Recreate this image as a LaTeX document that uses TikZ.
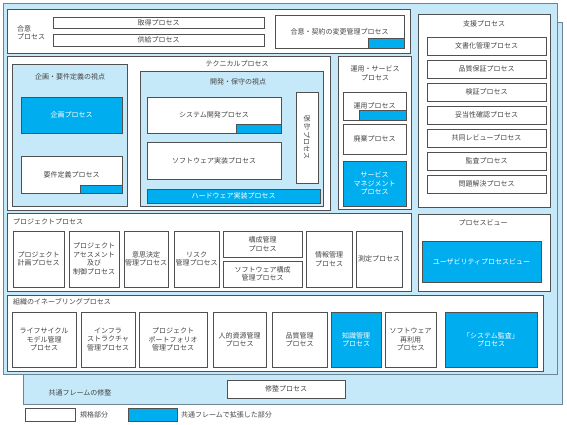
\documentclass[tikz,border=0pt]{standalone}
\usepackage{fontspec}
\setmainfont{Noto Sans CJK JP}
\usetikzlibrary{positioning}
\definecolor{panelblue}{HTML}{C6E9F9}
\definecolor{panelgray}{HTML}{6E8494}
\definecolor{extblue}{HTML}{00AEEF}
\definecolor{linegray}{HTML}{505050}
\definecolor{textgray}{HTML}{444444}
\tikzset{
  jpfont/.style={font=\fontsize{7}{8.5}\selectfont},
  base/.style={draw=linegray, line width=0.7pt, inner sep=0pt, outer sep=0pt, align=center, jpfont, text=textgray},
  std/.style={base, fill=white},
  ext/.style={base, fill=extblue, text=white},
  grp/.style={draw=linegray, line width=0.7pt, fill=white},
  panel/.style={draw=panelgray, line width=0.9pt, fill=panelblue},
  lbl/.style={inner sep=0pt, align=center, jpfont, text=textgray},
}
\begin{document}
\begin{tikzpicture}[x=1pt, y=-1pt]
  \useasboundingbox (0,0) rectangle (567,425);
  % back and front frames
  \draw[panel] (23,22) rectangle (562,404);
  \draw[panel] (3,3) rectangle (557,374);
  % process groups
  \foreach \a/\b/\c/\d in {7/9/410/53, 7/56/330/210, 338/56/411/209, 418/14/550/207, 7/213/411/291, 418/214/550/291, 7/295/543/371}
    \draw[grp] (\a,\b) rectangle (\c,\d);
  \draw[panel, draw=linegray] (12,64) rectangle (127,206);
  \draw[panel, draw=linegray] (140,71) rectangle (323,206);
  % group titles
  \node[lbl, align=left, anchor=west] (goui) at (17,32.5) {合意\\プロセス};
  \node[lbl] (technical) at (237,64) {テクニカルプロセス};
  \node[lbl] (planview) at (70,77) {企画・要件定義の視点};
  \node[lbl] (devview) at (238,82) {開発・保守の視点};
  \node[lbl] (operation) at (375,73) {運用・サービス\\プロセス};
  \node[lbl] (support) at (484,23.5) {支援プロセス};
  \node[lbl, anchor=west] (project) at (13,222) {プロジェクトプロセス};
  \node[lbl] (processview) at (483,223) {プロセスビュー};
  \node[lbl, anchor=west] (enabling) at (13,302) {組織のイネーブリングプロセス};
  \node[lbl] (shuseilbl) at (80,393) {共通フレームの修整};
  % standard processes
  \foreach \n/\x/\y/\w/\h/\t in {shutoku/158.5/22.5/211/11/取得プロセス, kyokyu/158.5/40/211/12/供給プロセス,
      henkou/339.5/31.5/129/33/合意・契約の変更管理プロセス, youken/71.5/174.5/101/37/要件定義プロセス,
      sysdev/214/115/134/36/システム開発プロセス, swimpl/214/160.5/134/37/ソフトウェア実装プロセス,
      unyou/374.5/106/63/28/運用プロセス, haiki/374.5/139/63/30/廃棄プロセス,
      pkeikaku/38.5/259/51/56/{プロジェクト\\計画プロセス}, passess/94/259/50/56/{プロジェクト\\アセスメント\\及び\\制御プロセス},
      ishi/146/259/44/56/{意思決定\\管理プロセス}, risk/196.5/259/45/56/{リスク\\管理プロセス},
      kosei/262.5/244/79/26/{構成管理\\プロセス}, swkosei/262.5/274/79/26/{ソフトウェア構成\\管理プロセス},
      joho/329/259/46/56/{情報管理\\プロセス}, sokutei/379/259/46/56/測定プロセス,
      lifecycle/44/339.5/64/55/{ライフサイクル\\モデル管理\\プロセス}, infra/108/339.5/54/55/{インフラ\\ストラクチャ\\管理プロセス},
      portfolio/173/339.5/68/55/{プロジェクト\\ポートフォリオ\\管理プロセス}, jinteki/239.5/339.5/53/55/{人的資源管理\\プロセス},
      hinkan/299.5/339.5/55/55/{品質管理\\プロセス}, reuse/410.5/339.5/51/55/{ソフトウェア\\再利用\\プロセス},
      shusei/286/389/118/18/修整プロセス}
    \node[std, minimum width=\w pt, minimum height=\h pt] (\n) at (\x,\y) {\t};
  \foreach \n/\t [count=\i from 0] in {bunsho/文書化管理プロセス, hinshitsu/品質保証プロセス, kensho/検証プロセス,
      datousei/妥当性確認プロセス, kyodo/共同レビュープロセス, kansa/監査プロセス, mondai/問題解決プロセス}
    \node[std, minimum width=119pt, minimum height=18pt] (\n) at (486.5,46+23*\i) {\t};
  % maintenance box, text set vertically
  \node[std, minimum width=22pt, minimum height=91pt] (hoshu) at (307,137.5) {};
  \node[lbl] (hoshuA) at (307,119) {保};
  \node[lbl, below=0.6pt of hoshuA] (hoshuB) {守};
  \node[lbl, rotate=-90, anchor=west] (hoshuC) at ([yshift=-1pt]hoshuB.south) {プロセス};
  % extended processes
  \foreach \n/\x/\y/\w/\h/\t in {kikaku/71.5/115/101/36/企画プロセス, hardware/233.5/196/173/14/ハードウェア実装プロセス,
      service/374.5/183.5/63/45/{サービス\\マネジメント\\プロセス}, usability/481.5/261.5/119/41/ユーザビリティプロセスビュー,
      chishiki/356/339.5/50/55/{知識管理\\プロセス}, sysaudit/491/339.5/92/55/{「システム監査」\\プロセス}}
    \node[ext, minimum width=\w pt, minimum height=\h pt] (\n) at (\x,\y) {\t};
  % extension strips
  \foreach \n/\w/\h in {henkou/36/10, youken/42/8, sysdev/45/9, unyou/47/10}
    \draw[ext] ([xshift=-\w pt, yshift=\h pt]\n.south east) rectangle (\n.south east);
  % legend
  \node[std, minimum width=50pt, minimum height=13pt] (legstd) at (50,414.5) {};
  \node[lbl, right=5pt of legstd] (legstdtxt) {規格部分};
  \node[ext, minimum width=49pt, minimum height=13pt] (legext) at (152.5,414.5) {};
  \node[lbl, right=4pt of legext] (legexttxt) {共通フレームで拡張した部分};
\end{tikzpicture}
\end{document}
